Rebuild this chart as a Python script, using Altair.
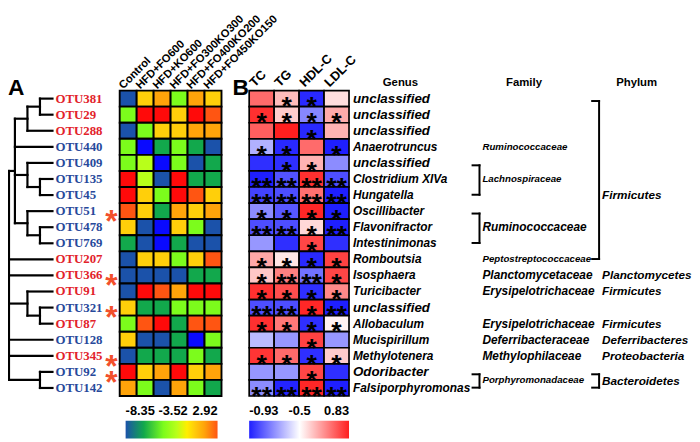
import altair as alt
import numpy as np
import pandas as pd

# ---------------- data ----------------
otus = ["OTU381", "OTU29", "OTU288", "OTU440", "OTU409", "OTU135", "OTU45",
        "OTU51", "OTU478", "OTU769", "OTU207", "OTU366", "OTU91", "OTU321",
        "OTU87", "OTU128", "OTU345", "OTU92", "OTU142"]
otu_tone = ["red", "red", "red", "blue", "blue", "blue", "blue", "blue", "blue",
            "blue", "red", "red", "red", "blue", "red", "blue", "red", "blue", "blue"]
otu_flagged = [0, 0, 0, 0, 0, 0, 0, 1, 0, 0, 0, 1, 0, 1, 0, 0, 1, 1, 0]

groups = ["Control", "HFD+FO600", "HFD+KO600", "HFD+FO300KO300",
          "HFD+FO400KO200", "HFD+FO450KO150"]
abundance = [
    [-8.35, -0.5, 1.0, -4.5, 1.0, -0.5],
    [-4.5, 3.5, 3.5, -0.5, 3.5, 2.92],
    [-8.35, -4.5, -0.5, -0.5, 1.0, 1.0],
    [-4.5, -9.5, -6.5, -4.5, -6.5, -8.35],
    [-4.5, -3.0, -9.5, -4.5, -8.35, -6.5],
    [3.5, -3.0, -8.35, 3.5, -6.5, -6.5],
    [3.5, -0.5, -4.5, 3.5, 2.92, -0.5],
    [2.92, -0.5, -6.5, 1.0, -0.5, 1.0],
    [-0.5, -8.35, -9.5, -0.5, -4.5, -8.35],
    [-6.5, -8.35, -9.5, -6.5, -8.35, -8.35],
    [-8.35, -0.5, -0.5, -4.5, -0.5, 2.92],
    [-8.35, -8.35, -8.35, -8.35, -6.5, -6.5],
    [-8.35, 3.5, 2.92, 1.0, 3.5, 3.5],
    [-0.5, -6.5, -6.5, -4.5, -4.5, -4.5],
    [-4.5, 2.92, 3.5, -6.5, 2.92, 2.92],
    [-0.5, -8.35, -8.35, -6.5, -9.5, -4.5],
    [-8.35, -6.5, -6.5, -6.5, -4.5, -6.5],
    [3.5, -0.5, 1.0, 3.5, -0.5, 1.0],
    [1.0, -4.5, -8.35, 1.0, -4.5, -6.5],
]
abund_ticks = [-8.35, -3.52, 2.92]

lipids = ["TC", "TG", "HDL-C", "LDL-C"]
corr = [
    [0.38, -0.1, -0.91, -0.3],
    [0.73, -0.2, -0.73, 0.0],
    [0.45, 0.83, -0.91, -0.05],
    [-0.65, -0.91, 0.38, -0.93],
    [-0.9, -0.9, -0.05, -0.72],
    [-0.93, -0.83, 0.73, -0.84],
    [-0.86, -0.84, 0.35, -0.93],
    [-0.72, -0.82, 0.78, -0.93],
    [-0.84, -0.84, -0.27, -0.93],
    [-0.7, -0.9, 0.6, -0.9],
    [0.02, -0.35, -0.91, 0.62],
    [-0.17, 0.25, -0.77, 0.6],
    [0.73, 0.55, -0.9, 0.2],
    [-0.84, -0.84, 0.78, -0.93],
    [0.73, 0.3, -0.9, -0.42],
    [-0.63, -0.7, 0.62, -0.7],
    [0.7, 0.38, -0.9, -0.2],
    [-0.7, -0.7, 0.6, -0.9],
    [-0.72, -0.92, 0.78, -0.93],
]
corr_sig = [
    [0, 1, 1, 0], [1, 1, 1, 1], [0, 0, 1, 0], [1, 1, 0, 1], [0, 1, 1, 0],
    [2, 2, 2, 2], [2, 2, 2, 2], [1, 1, 1, 1], [2, 2, 1, 2], [0, 0, 1, 0],
    [1, 1, 1, 1], [1, 2, 2, 1], [1, 1, 1, 1], [2, 2, 1, 2], [1, 1, 1, 1],
    [0, 0, 1, 0], [1, 1, 1, 1], [0, 0, 1, 0], [2, 2, 2, 2],
]
corr_ticks = [-0.93, -0.5, 0.83]

genus = ["unclassified", "unclassified", "unclassified", "Anaerotruncus",
         "unclassified", "Clostridium XIVa", "Hungatella", "Oscillibacter",
         "Flavonifractor", "Intestinimonas", "Romboutsia", "Isosphaera",
         "Turicibacter", "unclassified", "Allobaculum", "Mucispirillum",
         "Methylotenera", "Odoribacter", "Falsiporphyromonas"]

family = ["Ruminococcaceae", "Lachnospiraceae", "Ruminococcaceae",
          "Peptostreptococcaceae", "Planctomycetaceae", "Erysipelotrichaceae",
          "Erysipelotrichaceae", "Deferribacteraceae", "Methylophilaceae",
          "Porphyromonadaceae"]
family_first = [3, 4, 7, 10, 11, 12, 14, 15, 16, 17]
family_last = [3, 6, 9, 10, 11, 12, 14, 15, 16, 18]
family_row = [3, 5, 8, 10, 11, 12, 14, 15, 16, 17.5]

phylum = ["Firmicutes", "Planctomycetes", "Firmicutes", "Firmicutes",
          "Deferribacteres", "Proteobacteria", "Bacteroidetes"]
phylum_first = [0, 11, 12, 14, 15, 16, 17]
phylum_last = [10, 11, 12, 14, 15, 16, 18]
phylum_row = [6, 11, 12, 14, 15, 16, 17.6]

# clustering tree: (height, children); leaves are OTU names
tree = (4, [(3, [(2, [(1, ["OTU381", "OTU29"]), "OTU288"]), "OTU440",
                 (2, ["OTU409", (1, ["OTU135", "OTU45"])]),
                 (2, ["OTU51", (1, ["OTU478", "OTU769"])])]),
            "OTU207", "OTU366",
            (2, ["OTU91", (1, ["OTU321", "OTU87"])]),
            "OTU128", "OTU345",
            (1, ["OTU92", "OTU142"])])

# ---------------- styles ----------------
SANS = "Liberation Sans"
SERIF = "Liberation Serif"
RED_TXT, BLUE_TXT, FLAG = "#e2222a", "#27499b", "#f2502c"
A_stops = [(-9.5, "#0a0aff"), (-8.35, "#1b52aa"), (-6.5, "#12a84c"),
           (-4.5, "#7cfc1c"), (-3.0, "#b8ff1a"), (-1.5, "#ffee00"),
           (-0.5, "#ffcf0a"), (1.0, "#ffa40a"), (2.92, "#ff5512"),
           (3.5, "#ff0a0a")]
B_colors = ["#1f1fff", "#ffffff", "#ff1f1f"]

ROWS = [81, 390]
row_band = alt.Scale(domain=otus, range=ROWS, paddingInner=0, paddingOuter=0)
row_lin = alt.Scale(domain=[-0.5, 18.5], range=ROWS, nice=False, zero=False)
xA = alt.Scale(domain=groups, range=[113, 216], paddingInner=0, paddingOuter=0)
xB = alt.Scale(domain=lipids, range=[244, 345], paddingInner=0, paddingOuter=0)
x_tree = alt.Scale(domain=[0, 3, 4], range=[45, 7, 1], nice=False, zero=False)
x_table = alt.Scale(domain=[0, 1, 2], range=[349, 480, 601], nice=False, zero=False)
x_head = alt.Scale(domain=[0, 1, 2], range=[397, 522, 636], nice=False, zero=False)
cbA_rng = [119, 167, 212]
cbB_rng = [244, 295, 345]
cbA_x = alt.Scale(domain=abund_ticks, range=cbA_rng, nice=False, zero=False)
cbB_x = alt.Scale(domain=corr_ticks, range=cbB_rng, nice=False, zero=False)
colA = alt.Scale(domain=[v for v, _ in A_stops], range=[c for _, c in A_stops],
                 interpolate="rgb")
colB = alt.Scale(domain=corr_ticks, range=B_colors, interpolate="rgb")

# ---------------- tables ----------------
dfA = pd.DataFrame([(otus[i], groups[j], abundance[i][j])
                    for i in range(len(otus)) for j in range(len(groups))],
                   columns=["otu", "group", "value"])
dfB = pd.DataFrame([(otus[i], lipids[j], corr[i][j], "*" * corr_sig[i][j])
                    for i in range(len(otus)) for j in range(len(lipids))],
                   columns=["otu", "lipid", "r", "stars"])
dfOtu = pd.DataFrame({"otu": otus, "tone": otu_tone, "flag": otu_flagged,
                      "h": 0.0, "first": groups[0]})

segs = []


def walk(node):
    if isinstance(node, str):
        return 0.0, float(otus.index(node))
    h, kids = node
    pos = [walk(k) for k in kids]
    ys = [p[1] for p in pos]
    for kh, ky in pos:
        segs.append({"x": h, "x2": kh, "y": ky, "y2": ky})
    segs.append({"x": h, "x2": h, "y": min(ys), "y2": max(ys)})
    return h, (min(ys) + max(ys)) / 2


walk(tree)
dfTree = pd.DataFrame(segs)

big_genus = {"unclassified", "Odoribacter"}
dfGenus = pd.DataFrame({"name": genus, "row": list(range(len(genus))), "col": 0,
                        "fs": [13.5 if g in big_genus else 12 for g in genus]})
small_family = {0, 1, 3, 9}
dfFam = pd.DataFrame({"name": family, "row": family_row, "col": 1,
                      "fs": [9.8 if i in small_family else 12 for i in range(len(family))]})
dfPhy = pd.DataFrame({"name": phylum, "row": phylum_row, "col": 2, "fs": 11.9})

brk = []
for col, firsts, lasts in [(1, family_first, family_last), (2, phylum_first, phylum_last)]:
    for a, b in zip(firsts, lasts):
        if b > a:
            brk.append({"col": col, "y0": a + 0.15, "y1": b - 0.02})
dfBrk = pd.DataFrame(brk)
dfTick = pd.concat([dfBrk[["col", "y0"]].rename(columns={"y0": "y"}),
                    dfBrk[["col", "y1"]].rename(columns={"y1": "y"})])

NOAX = dict(axis=None)

# ---------------- layers ----------------
heatA = alt.Chart(dfA).mark_rect(stroke="black", strokeWidth=1.9).encode(
    x=alt.X("group:N", scale=xA, **NOAX),
    y=alt.Y("otu:N", scale=row_band, **NOAX),
    color=alt.Color("value:Q", scale=colA, legend=None))

heatB = alt.Chart(dfB).mark_rect(stroke="black", strokeWidth=1.7).encode(
    x=alt.X("lipid:N", scale=xB, **NOAX),
    y=alt.Y("otu:N", scale=row_band, **NOAX),
    color=alt.Color("r:Q", scale=colB, legend=None))

starsB = alt.Chart(dfB).transform_filter("datum.stars != ''").mark_text(
    font=SANS, fontWeight="bold", fontSize=27, baseline="middle", dy=9,
    color="black").encode(
    x=alt.X("lipid:N", scale=xB, **NOAX),
    y=alt.Y("otu:N", scale=row_band, **NOAX),
    text="stars:N")

dendro = alt.Chart(dfTree).mark_rule(color="black", strokeWidth=2.2,
                                     strokeCap="square").encode(
    x=alt.X("x:Q", scale=x_tree, **NOAX), x2="x2:Q",
    y=alt.Y("y:Q", scale=row_lin, **NOAX), y2="y2:Q")

otuLbl = alt.Chart(dfOtu).mark_text(
    align="left", baseline="middle", dx=3, font=SERIF, fontWeight="bold",
    fontSize=13).encode(
    x=alt.X("h:Q", scale=x_tree, **NOAX),
    y=alt.Y("otu:N", scale=row_band, **NOAX),
    color=alt.Color("tone:N", scale=alt.Scale(domain=["red", "blue"],
                                              range=[RED_TXT, BLUE_TXT]), legend=None),
    text="otu:N")

otuFlag = alt.Chart(dfOtu).transform_filter("datum.flag == 1").mark_text(
    text="*", font=SANS, fontWeight="bold", fontSize=32, baseline="middle",
    dy=11, xOffset=-17, color=FLAG).encode(
    x=alt.X("first:N", scale=xA, **NOAX),
    y=alt.Y("otu:N", scale=row_band, **NOAX))

dfGA = pd.DataFrame({"group": groups, "edge": -0.5})
colLblA = alt.Chart(dfGA).mark_text(
    angle=315, align="left", baseline="alphabetic", font=SANS, fontWeight="bold",
    fontSize=11.3, xOffset=-5, yOffset=-1, color="black").encode(
    x=alt.X("group:N", scale=xA, **NOAX),
    y=alt.Y("edge:Q", scale=row_lin, **NOAX), text="group:N")

dfGB = pd.DataFrame({"lipid": lipids, "edge": -0.5})
colLblB = alt.Chart(dfGB).mark_text(
    angle=315, align="left", baseline="alphabetic", font=SANS, fontWeight="bold",
    fontSize=13, xOffset=-7, yOffset=-3, color="black").encode(
    x=alt.X("lipid:N", scale=xB, **NOAX),
    y=alt.Y("edge:Q", scale=row_lin, **NOAX), text="lipid:N")


def table_text(df):
    return alt.Chart(df).mark_text(
        align="left", baseline="middle", font=SANS, fontStyle="italic",
        fontWeight="bold", color="black").encode(
        x=alt.X("col:Q", scale=x_table, **NOAX),
        y=alt.Y("row:Q", scale=row_lin, **NOAX),
        size=alt.Size("fs:Q", scale=None, legend=None),
        text="name:N")


genusLbl = table_text(dfGenus)
famLbl = table_text(dfFam)
phyLbl = table_text(dfPhy)

brkV = alt.Chart(dfBrk).mark_rule(color="black", strokeWidth=2, xOffset=-3,
                                  strokeCap="square").encode(
    x=alt.X("col:Q", scale=x_table, **NOAX),
    y=alt.Y("y0:Q", scale=row_lin, **NOAX), y2="y1:Q")
brkT = alt.Chart(dfTick).mark_rule(color="black", strokeWidth=2, xOffset=-10,
                                   x2Offset=-3, strokeCap="square").encode(
    x=alt.X("col:Q", scale=x_table, **NOAX), x2="col:Q",
    y=alt.Y("y:Q", scale=row_lin, **NOAX))

dfHead = pd.DataFrame({"name": ["Genus", "Family", "Phylum"], "col": [0, 1, 2],
                       "row": -1})
heads = alt.Chart(dfHead).mark_text(
    align="center", baseline="middle", font=SANS, fontWeight="bold",
    fontSize=11.5, color="black").encode(
    x=alt.X("col:Q", scale=x_head, **NOAX),
    y=alt.Y("row:Q", scale=row_lin, **NOAX), text="name:N")

dfPanel = pd.DataFrame({"panel": ["A", "B"]})
panels = alt.Chart(dfPanel).mark_text(
    align="left", baseline="alphabetic", font=SANS, fontWeight="bold",
    fontSize=23, color="black").encode(
    x=alt.X("panel:N", scale=alt.Scale(domain=["A", "B"], range=[0, 227],
                                       type="point", padding=0), **NOAX),
    y=alt.value(85), text="panel:N")


def colorbar(ticks, rng, xscale, stops):
    lo, hi = rng[0], rng[-1]
    grad = [alt.GradientStop(offset=float((np.interp(v, ticks, rng) - lo) / (hi - lo)),
                             color=c)
            for v, c in stops if ticks[0] <= v <= ticks[-1]]
    bar = alt.Chart(pd.DataFrame({"lo": [ticks[0]], "hi": [ticks[-1]]})).mark_rect(
        fill=alt.Gradient(gradient="linear", stops=grad, x1=0, x2=1, y1=0, y2=0)
    ).encode(x=alt.X("lo:Q", scale=xscale, **NOAX), x2="hi:Q",
             y=alt.value(415), y2=alt.value(433))
    out = [bar]
    for k, al in enumerate(["left", "center", "right"]):
        lbl = alt.Chart(pd.DataFrame({"v": [ticks[k]],
                                      "t": [f"{ticks[k]:g}"]})).mark_text(
            align=al, baseline="middle", font=SANS, fontWeight="bold",
            fontSize=13, color="black").encode(
            x=alt.X("v:Q", scale=xscale, **NOAX), y=alt.value(405), text="t:N")
        out.append(lbl)
    return out


cbA = colorbar(abund_ticks, cbA_rng, cbA_x, A_stops)
cbB = colorbar(corr_ticks, cbB_rng, cbB_x,
               list(zip(corr_ticks, B_colors)))

chart = alt.layer(
    heatA, heatB, starsB, dendro, otuLbl, otuFlag, colLblA, colLblB,
    genusLbl, famLbl, phyLbl, brkV, brkT, heads, panels, *cbA, *cbB
).resolve_scale(
    x="independent", y="independent", color="independent", size="independent"
).properties(
    width=692, height=434, autosize=alt.AutoSizeParams(type="none"), padding=0,
    background="white"
).configure_view(stroke=None)

chart.save("out.html", embed_options={"renderer": "svg", "actions": False})
